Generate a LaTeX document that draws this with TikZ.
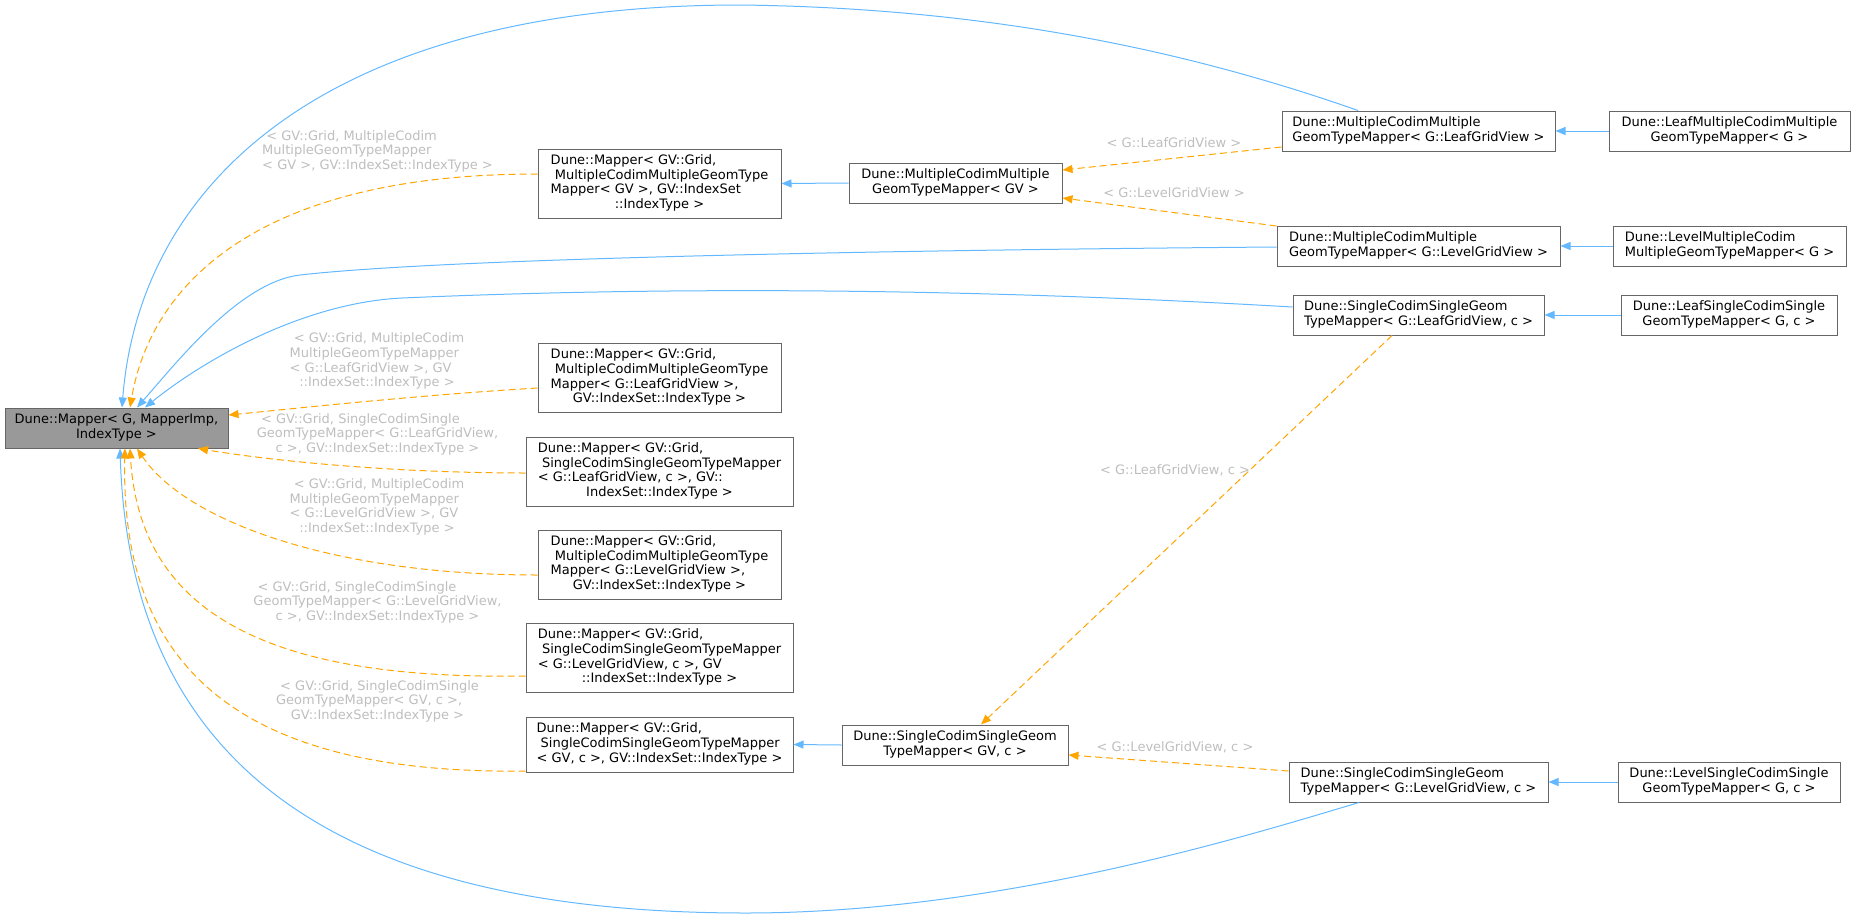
\documentclass[tikz,border=0pt]{standalone}
\usepackage{fontspec}
\setmainfont{DejaVu Sans}
\usetikzlibrary{arrows.meta,calc}
\definecolor{edgeblue}{HTML}{63B8FF}
\definecolor{edgeorange}{HTML}{FFA500}
\definecolor{nodeborder}{HTML}{666666}
\definecolor{rootfill}{HTML}{999999}
\definecolor{labelgrey}{HTML}{BEBEBE}
\newcommand{\dxtxt}[2]{\begin{tabular}{@{}l@{}}#1\\\multicolumn{1}{@{}c@{}}{#2}\end{tabular}}
\begin{document}
\begin{tikzpicture}[x=1pt,y=-1pt,
  every node/.style={font=\fontsize{13}{14.7}\selectfont},
  cls/.style={draw=nodeborder, line width=1pt, fill=white, inner sep=0pt, minimum height=40pt, text=black},
  inh/.style={draw=edgeblue, line width=1pt, -{Triangle[length=10pt,width=8pt]}},
  tpl/.style={draw=edgeorange, line width=1pt, dash pattern=on 7pt off 4pt, -{Triangle[length=10pt,width=8pt]}},
  lbl/.style={text=labelgrey, inner sep=0pt}]
\useasboundingbox (0,0) rectangle (1855,918);
% nodes
\node[cls, fill=rootfill, minimum width=223pt] (root) at (116.5,428) {\dxtxt{Dune::Mapper< G, MapperImp,}{IndexType >}};
\node[cls, minimum width=243pt, minimum height=69pt] (mappergv) at (659.5,183.5) {\dxtxt{Dune::Mapper< GV::Grid,\\\ MultipleCodimMultipleGeomType\\Mapper< GV >, GV::IndexSet}{::IndexType >}};
\node[cls, minimum width=213pt] (mcmgv) at (955.5,183) {\dxtxt{Dune::MultipleCodimMultiple}{GeomTypeMapper< GV >}};
\node[cls, minimum width=243pt, minimum height=69pt] (mapmcmleaf) at (659.5,378) {\dxtxt{Dune::Mapper< GV::Grid,\\\ MultipleCodimMultipleGeomType\\Mapper< G::LeafGridView >,}{GV::IndexSet::IndexType >}};
\node[cls, minimum width=267pt, minimum height=69pt] (mapscleaf) at (659.5,471.5) {\dxtxt{Dune::Mapper< GV::Grid,\\\ SingleCodimSingleGeomTypeMapper\\< G::LeafGridView, c >, GV::}{IndexSet::IndexType >}};
\node[cls, minimum width=243pt, minimum height=69pt] (mapmcmlevel) at (659.5,564.5) {\dxtxt{Dune::Mapper< GV::Grid,\\\ MultipleCodimMultipleGeomType\\Mapper< G::LevelGridView >,}{GV::IndexSet::IndexType >}};
\node[cls, minimum width=267pt, minimum height=69pt] (mapsclevel) at (659.5,658) {\dxtxt{Dune::Mapper< GV::Grid,\\\ SingleCodimSingleGeomTypeMapper\\< G::LevelGridView, c >, GV}{::IndexSet::IndexType >}};
\node[cls, minimum width=267pt, minimum height=55pt] (mapscgv) at (659.5,744.5) {\dxtxt{Dune::Mapper< GV::Grid,\\\ SingleCodimSingleGeomTypeMapper}{< GV, c >, GV::IndexSet::IndexType >}};
\node[cls, minimum width=226pt] (scgv) at (955,745) {\dxtxt{Dune::SingleCodimSingleGeom}{TypeMapper< GV, c >}};
\node[cls, minimum width=273pt] (mcmleaf) at (1418.5,131) {\dxtxt{Dune::MultipleCodimMultiple}{GeomTypeMapper< G::LeafGridView >}};
\node[cls, minimum width=241pt] (leafmcm) at (1729.5,131) {\dxtxt{Dune::LeafMultipleCodimMultiple}{GeomTypeMapper< G >}};
\node[cls, minimum width=283pt] (mcmlevel) at (1418.5,246) {\dxtxt{Dune::MultipleCodimMultiple}{GeomTypeMapper< G::LevelGridView >}};
\node[cls, minimum width=233pt] (levelmcm) at (1729.5,246) {\dxtxt{Dune::LevelMultipleCodim}{MultipleGeomTypeMapper< G >}};
\node[cls, minimum width=251pt] (scleaf) at (1418.5,315) {\dxtxt{Dune::SingleCodimSingleGeom}{TypeMapper< G::LeafGridView, c >}};
\node[cls, minimum width=216pt] (leafsc) at (1729,315) {\dxtxt{Dune::LeafSingleCodimSingle}{GeomTypeMapper< G, c >}};
\node[cls, minimum width=259pt] (sclevel) at (1418.5,782) {\dxtxt{Dune::SingleCodimSingleGeom}{TypeMapper< G::LevelGridView, c >}};
\node[cls, minimum width=222pt] (levelsc) at (1729,782) {\dxtxt{Dune::LevelSingleCodimSingle}{GeomTypeMapper< G, c >}};
% labels
\node[lbl] (l1) at (377.5,152) {\dxtxt{\ < GV::Grid, MultipleCodim\\MultipleGeomTypeMapper}{< GV >, GV::IndexSet::IndexType >}};
\node[lbl] (l2) at (377,362) {\dxtxt{\ < GV::Grid, MultipleCodim\\MultipleGeomTypeMapper\\< G::LeafGridView >, GV}{::IndexSet::IndexType >}};
\node[lbl] (l3) at (377.5,435) {\dxtxt{\ < GV::Grid, SingleCodimSingle\\GeomTypeMapper< G::LeafGridView,}{c >, GV::IndexSet::IndexType >}};
\node[lbl] (l4) at (377,507.5) {\dxtxt{\ < GV::Grid, MultipleCodim\\MultipleGeomTypeMapper\\< G::LevelGridView >, GV}{::IndexSet::IndexType >}};
\node[lbl] (l5) at (377.5,603) {\dxtxt{\ < GV::Grid, SingleCodimSingle\\GeomTypeMapper< G::LevelGridView,}{c >, GV::IndexSet::IndexType >}};
\node[lbl] (l6) at (377.5,702) {\dxtxt{\ < GV::Grid, SingleCodimSingle\\GeomTypeMapper< GV, c >,}{GV::IndexSet::IndexType >}};
\node[lbl] (l7) at (1174,143) {< G::LeafGridView >};
\node[lbl] (l8) at (1174,193) {< G::LevelGridView >};
\node[lbl] (l9) at (1175,470) {< G::LeafGridView, c >};
\node[lbl] (l10) at (1175,747) {< G::LevelGridView, c >};
% inheritance edges
\draw[inh] ($(mcmleaf.north)+(-60.5,0)$) .. controls (1200,55) and (1000,8) .. (740,5) .. controls (330,5) and (140,180) .. ($(root.north)+(5.5,0)$);
\draw[inh] ($(mcmlevel.west)+(0,1)$) .. controls (900,250) and (450,258) .. (300,275) .. controls (240,282) and (177,362) .. ($(root.north)+(20.5,0)$);
\draw[inh] ($(scleaf.west)+(0,-8)$) .. controls (1000,290) and (700,285) .. (402,298) .. controls (300,303) and (200,363) .. ($(root.north)+(28.5,0)$);
\draw[inh] ($(sclevel.south)+(-59.5,0)$) .. controls (1250,835) and (1000,913) .. (746,913) .. controls (330,913) and (130,760) .. ($(root.south)+(3.5,0)$);
\draw[inh] (leafmcm.west) -- (mcmleaf.east);
\draw[inh] (levelmcm.west) -- (mcmlevel.east);
\draw[inh] (leafsc.west) -- (scleaf.east);
\draw[inh] (levelsc.west) -- (sclevel.east);
\draw[inh] (mcmgv.west) -- (mappergv.east);
\draw[inh] (scgv.west) -- (mapscgv.east);
% template edges
\draw[tpl] ($(mappergv.west)+(0,-9.5)$) .. controls (250,174) and (150,290) .. ($(root.north)+(13.5,0)$);
\draw[tpl] ($(mapmcmleaf.west)+(0,10)$) .. controls (420,395) and (300,408) .. ($(root.east)+(0,-13)$);
\draw[tpl] ($(mapscleaf.west)+(0,1.5)$) .. controls (400,473) and (280,462) .. ($(root.south)+(81.5,0)$);
\draw[tpl] ($(mapmcmlevel.west)+(0,10.5)$) .. controls (330,575) and (185,520) .. ($(root.south)+(20.5,0)$);
\draw[tpl] ($(mapsclevel.west)+(0,18)$) .. controls (280,680) and (140,620) .. ($(root.south)+(13.5,0)$);
\draw[tpl] ($(mapscgv.west)+(0,26.5)$) .. controls (230,775) and (120,660) .. ($(root.south)+(8.5,0)$);
\draw[tpl] ($(mcmleaf.west)+(0,16)$) -- ($(mcmgv.east)+(0,-13)$);
\draw[tpl] ($(mcmlevel.west)+(0,-20)$) -- ($(mcmgv.east)+(0,15)$);
\draw[tpl] ($(scleaf.south)+(-26.5,0)$) -- ($(scgv.north)+(26,0)$);
\draw[tpl] ($(sclevel.west)+(0,-11)$) -- ($(scgv.east)+(0,10)$);
\end{tikzpicture}
\end{document}
